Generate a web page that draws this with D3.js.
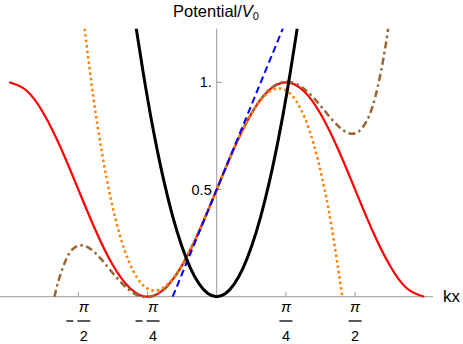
<!DOCTYPE html>
<html lang="en">
<head>
<meta charset="UTF-8">
<title>Potential</title>
<script src="https://cdnjs.cloudflare.com/ajax/libs/d3/7.8.5/d3.min.js"></script>
<style>
    body { margin: 0; background: #fff; }
    svg { display: block; font-family: "Liberation Sans", Arial, sans-serif; }
    .curve { fill: none; }
</style>
</head>
<body>
<div id="chart"></div>
<script>
// Exact potential sin^2(kx + pi/4), sampled every pi/16
const redX = d3.range(-12, 13).map(n => n * Math.PI / 16);
const redY = [1, 0.9619, 0.8536, 0.6913, 0.5, 0.3087, 0.1464, 0.0381, 0,
              0.0381, 0.1464, 0.3087, 0.5, 0.6913, 0.8536, 0.9619, 1,
              0.9619, 0.8536, 0.6913, 0.5, 0.3087, 0.1464, 0.0381, 0];

// 5th order expansion (brown, dot-dashed)
const brownX = [-1.84, -1.8, -1.7, -1.6, -1.5, -1.4, -1.3, -1.2, -1.1, -1.0, -0.9, -0.8, -0.7, -0.6, -0.5, -0.4, -0.3, -0.2, -0.1,
                0, 0.1, 0.2, 0.3, 0.4, 0.5, 0.6, 0.7, 0.8, 0.9, 1.0, 1.1, 1.2, 1.3, 1.4, 1.5, 1.6, 1.7, 1.8, 1.9, 1.95];
const brownY = [0, 0.0686, 0.1822, 0.2326, 0.2375, 0.2122, 0.1696, 0.1202, 0.0726, 0.0333, 0.0073, -0.0024, 0.0063, 0.0336, 0.0792, 0.1413, 0.2177, 0.3053, 0.4007,
                0.5, 0.5993, 0.6947, 0.7823, 0.8587, 0.9208, 0.9664, 0.9937, 1.0024, 0.9927, 0.9667, 0.9274, 0.8798, 0.8304, 0.7878, 0.7625, 0.7674, 0.8178, 0.9314, 1.1288, 1.266];

// 3rd order expansion (orange, dotted)
const orangeX = [-1.5, -1.4, -1.3, -1.2, -1.1, -1.0, -0.9, -0.8, -0.7, -0.6, -0.5, -0.4, -0.3, -0.2, -0.1,
                 0, 0.1, 0.2, 0.3, 0.4, 0.5, 0.6, 0.7, 0.8, 0.9, 1.0, 1.1, 1.2, 1.3, 1.4, 1.422];
const orangeY = [1.25, 0.9293, 0.6647, 0.452, 0.2873, 0.1667, 0.086, 0.0413, 0.0287, 0.044, 0.0833, 0.1427, 0.218, 0.3053, 0.4007,
                 0.5, 0.5993, 0.6947, 0.782, 0.8573, 0.9167, 0.956, 0.9713, 0.9587, 0.914, 0.8333, 0.7127, 0.548, 0.3353, 0.0707, 0];

// linear approximation (blue, dashed)
const blueX = [-0.5, 0.8];
const blueY = [0, 1.3];

// harmonic approximation (black)
const blackX = [-0.95, -0.9, -0.8, -0.7, -0.6, -0.5, -0.4, -0.3, -0.2, -0.1, 0, 0.1, 0.2, 0.3, 0.4, 0.5, 0.6, 0.7, 0.8, 0.9, 0.95];
const blackY = [1.354, 1.215, 0.96, 0.735, 0.54, 0.375, 0.24, 0.135, 0.06, 0.015, 0, 0.015, 0.06, 0.135, 0.24, 0.375, 0.54, 0.735, 0.96, 1.215, 1.354];

const xTicks = [-2, -1, 1, 2];          // multiples of pi/4
const xTickDen = ["2", "4", "4", "2"];
const yTicks = [0.5, 1];
const yTickLabels = ["0.5", "1."];

const width = 463, height = 344;

const svg = d3.select("#chart").append("svg")
    .attr("width", width)
    .attr("height", height);

const x = d3.scaleLinear().domain([-2.46, 2.455]).range([0, 433]);
const y = d3.scaleLinear().domain([0, 1.25]).range([296.7, 28.7]);

svg.append("clipPath").attr("id", "clip")
  .append("rect")
    .attr("x", 0).attr("y", y(1.25))
    .attr("width", x(2.455)).attr("height", y(0) - y(1.25) + 2);

// Axes
const axisColor = "#999";
svg.append("line")
    .attr("x1", x(-2.46)).attr("x2", x(2.455))
    .attr("y1", y(0)).attr("y2", y(0))
    .attr("stroke", axisColor);
svg.append("line")
    .attr("x1", x(0)).attr("x2", x(0))
    .attr("y1", y(0)).attr("y2", y(1.25))
    .attr("stroke", axisColor);

// y ticks
yTicks.forEach((t, i) => {
    svg.append("line")
        .attr("x1", x(0)).attr("x2", x(0) + 5)
        .attr("y1", y(t)).attr("y2", y(t))
        .attr("stroke", axisColor);
    svg.append("text")
        .attr("x", x(0) - 5).attr("y", y(t) + 5)
        .attr("text-anchor", "end")
        .style("font-size", "14.5px")
        .text(yTickLabels[i]);
});

// x ticks, labels as fractions of pi
xTicks.forEach((t, i) => {
    const px = x(t * Math.PI / 4);
    svg.append("line")
        .attr("x1", px).attr("x2", px)
        .attr("y1", y(0)).attr("y2", y(0) - 5)
        .attr("stroke", axisColor);
    const g = svg.append("g").attr("transform", `translate(${px},0)`);
    const fc = t < 0 ? 5.5 : 0;   // fraction centre
    if (t < 0) {
        g.append("line")
            .attr("x1", -12).attr("x2", -5)
            .attr("y1", 321).attr("y2", 321)
            .attr("stroke", "#000").attr("stroke-width", 1.3);
    }
    g.append("text")
        .attr("x", fc).attr("y", 312)
        .attr("text-anchor", "middle")
        .style("font-size", "15px")
        .style("font-style", "italic")
        .text("π");
    g.append("line")
        .attr("x1", fc - 6.5).attr("x2", fc + 6.5)
        .attr("y1", 321).attr("y2", 321)
        .attr("stroke", "#000").attr("stroke-width", 1.3);
    g.append("text")
        .attr("x", fc).attr("y", 340.5)
        .attr("text-anchor", "middle")
        .style("font-size", "14.5px")
        .text(xTickDen[i]);
});

// Axis labels
const yl = svg.append("text")
    .attr("x", 216).attr("y", 17)
    .attr("text-anchor", "middle")
    .style("font-size", "16.5px");
yl.append("tspan").text("Potential/");
yl.append("tspan").style("font-style", "italic").text("V");
yl.append("tspan").attr("dy", 3).style("font-size", "11px").text("0");

svg.append("text")
    .attr("x", 443).attr("y", 302)
    .style("font-size", "17px")
    .text("kx");

// Curves
const line = d3.line()
    .x(d => x(d[0]))
    .y(d => y(d[1]))
    .curve(d3.curveNatural);

const plot = svg.append("g").attr("clip-path", "url(#clip)");

function addCurve(xs, ys, color, w, dash) {
    plot.append("path")
        .datum(xs.map((v, i) => [v, ys[i]]))
        .attr("class", "curve")
        .attr("stroke", color)
        .attr("stroke-width", w)
        .attr("stroke-dasharray", dash)
        .attr("d", line);
}

addCurve(redX, redY, "#ff0000", 2.2, null);
addCurve(brownX, brownY, "#996633", 2.5, "7,3.5,2.5,3.5");
addCurve(orangeX, orangeY, "#ff8000", 2.5, "2.5,3");
addCurve(blueX, blueY, "#0000ff", 2, "7,4");
addCurve(blackX, blackY, "#000000", 3, null);
</script>
</body>
</html>
